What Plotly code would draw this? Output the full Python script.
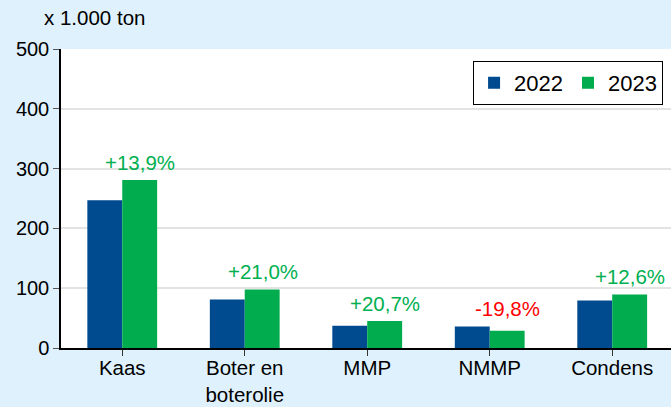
import plotly.graph_objects as go

categories = ["Kaas", "Boter en<br>boterolie", "MMP", "NMMP", "Condens"]
values_2022 = [247, 81, 37, 36, 79.5]
values_2023 = [281, 98, 45, 29, 89.5]
change_labels = ["+13,9%", "+21,0%", "+20,7%", "-19,8%", "+12,6%"]
change_colors = ["#00B050", "#00B050", "#00B050", "#FF0000", "#00B050"]
series_names = ["2022", "2023"]
y_ticks = [0, 100, 200, 300, 400, 500]

BG = "#DFF1FC"
FONT = "Liberation Sans, Arial, sans-serif"

fig = go.Figure()
fig.add_trace(go.Bar(x=list(range(len(categories))), y=values_2022, name=series_names[0],
                     marker=dict(color="#004A8F", line=dict(width=0))))
fig.add_trace(go.Bar(x=list(range(len(categories))), y=values_2023, name=series_names[1],
                     marker=dict(color="#00AC4E", line=dict(width=0))))

for i, (lab, col) in enumerate(zip(change_labels, change_colors)):
    fig.add_annotation(x=i + 0.145, y=max(values_2022[i], values_2023[i]), xref="x", yref="y",
                       text=lab, showarrow=False, yanchor="bottom", yshift=4,
                       font=dict(size=20.5, color=col, family=FONT))

fig.add_annotation(x=-0.031, y=1.104, xref="paper", yref="paper", text="x 1.000 ton",
                   showarrow=False, xanchor="left", yanchor="middle",
                   font=dict(size=20.5, color="#000000", family=FONT))

fig.update_layout(
    width=671, height=407,
    margin=dict(l=61, r=0, t=49, b=59, autoexpand=False),
    paper_bgcolor=BG, plot_bgcolor="#FFFFFF",
    barmode="group", bargap=0.43, bargroupgap=0,
    font=dict(family=FONT, size=20, color="#000000"),
    showlegend=True,
    legend=dict(orientation="h", x=0.987, xanchor="right", y=0.96, yanchor="top",
                bordercolor="#000000", borderwidth=1, bgcolor="#FFFFFF",
                font=dict(size=22, family=FONT), itemwidth=30, traceorder="normal"),
    xaxis=dict(tickmode="array", tickvals=list(range(len(categories))), ticktext=categories,
               range=[-0.5, 4.48], showline=True, linecolor="#000000", linewidth=1.5,
               ticks="outside", tickson="boundaries", ticklen=6, tickcolor="#333333",
               showgrid=False, tickfont=dict(size=20.5, family=FONT), fixedrange=True,
               automargin=False, ticklabelstandoff=-5),
    yaxis=dict(range=[0, 500], tickmode="array", tickvals=y_ticks,
               showline=True, linecolor="#000000", linewidth=1.5,
               ticks="outside", ticklen=6, tickcolor="#555555",
               showgrid=True, gridcolor="#E3E3E3", gridwidth=2, zeroline=False,
               tickfont=dict(size=20, family=FONT), automargin=False),
)

fig.write_html("out.html", config={"displayModeBar": False},
               post_script="document.body.style.margin='0px';document.body.style.padding='0px';")
